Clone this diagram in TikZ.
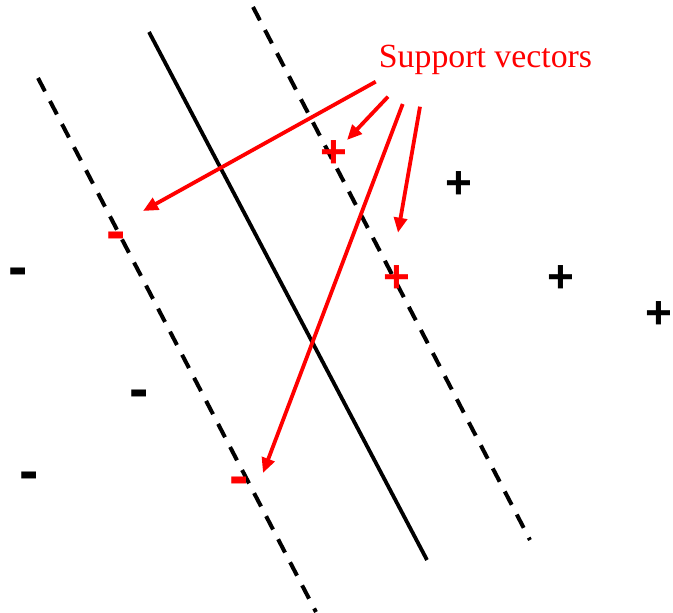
\documentclass[tikz,border=0pt]{standalone}
\usepackage{fontspec}
\setmainfont{Liberation Serif}
\newfontfamily\signfont{Liberation Sans}
\usetikzlibrary{arrows.meta,positioning}

\begin{document}
\begin{tikzpicture}[
    x=1pt, y=-1pt,
    margin/.style = {line width=4pt, dash pattern=on 15pt off 11pt},
    hyper/.style  = {line width=3.8pt},
    sv/.style     = {draw=red, line width=3.8pt, -{Triangle[length=15pt,width=13pt]}},
    possign/.style = {inner sep=0pt, yshift=-3pt, font=\signfont\bfseries\fontsize{46}{46}\selectfont},
    negsign/.style = {inner sep=0pt, yshift=-7pt, font=\signfont\bfseries\fontsize{58}{58}\selectfont}
]
\useasboundingbox (0,0) rectangle (673,613);

% Hyperplane and margins
\coordinate (h1) at (149,32);
\coordinate (h2) at (427,560);
\coordinate (l1) at (38,78);
\coordinate (l2) at (316,612);
\coordinate (r1) at (253,7);
\coordinate (r2) at (530,540);
\draw[hyper] (h1) -- (h2);
\draw[margin] (l1) -- (l2);
\draw[margin] (r1) -- (r2);

% Negative samples
\node[negsign] (m1) at (18.5,270) {-};
\node[negsign] (m2) at (139,392) {-};
\node[negsign] (m3) at (29,474.5) {-};
\node[negsign, red] (m4) at (116,234.5) {-};
\node[negsign, red] (m5) at (239,479) {-};

% Positive samples
\node[possign] (p1) at (459,182) {+};
\node[possign] (p2) at (561,276) {+};
\node[possign] (p3) at (659,312) {+};
\node[possign, red] (p4) at (334,151) {+};
\node[possign, red] (p5) at (397,276) {+};

% Label
\node[red, anchor=base, inner sep=0pt, font=\fontsize{33.8}{40}\selectfont] (lbl) at (485.5,67) {Support vectors};

% Arrows
\coordinate (s1) at (375.7,81.7);
\coordinate (t1) at (143,211);
\coordinate (s2) at (388,96.7);
\coordinate (t2) at (347,140);
\coordinate (s3) at (402.7,104);
\coordinate (t3) at (263,473);
\coordinate (s4) at (420,106.7);
\coordinate (t4) at (398,232.7);
\draw[sv] (s1) -- (t1);
\draw[sv] (s2) -- (t2);
\draw[sv] (s3) -- (t3);
\draw[sv] (s4) -- (t4);

\end{tikzpicture}
\end{document}
